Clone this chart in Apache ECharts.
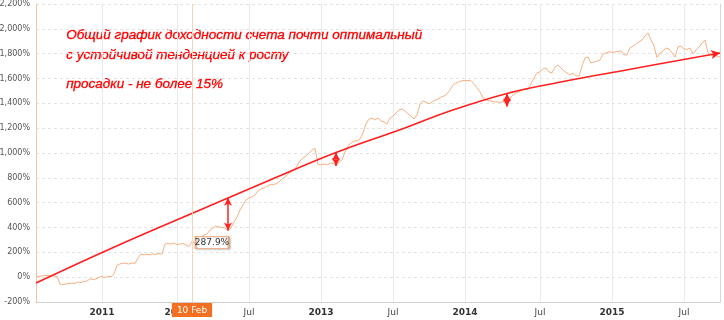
<!DOCTYPE html>
<html>
<head>
<meta charset="utf-8">
<script src="https://cdn.jsdelivr.net/npm/echarts@6/dist/echarts.min.js"></script>
<style>
html,body{margin:0;padding:0;background:#fff;}
#c{width:724px;height:320px;}
</style>
</head>
<body>
<div id="c"></div>
<script>
// Equity curve (%), one value per ordinal slot
const equity = [
2,6,10,14,14,10,10,6,-55,-59,
-55,-51,-47,-51,-39,-43,-35,-31,-14,-19,
-14,-2,6,-2,6,2,26,94,106,114,
110,106,114,110,155,187,179,183,179,187,
183,191,187,267,271,267,275,263,267,271,
259,247,287.9,275,300,324,340,348,380,396,
412,404,400,396,376,396,445,485,541,581,
622,638,646,662,694,710,718,735,743,747,
751,767,791,807,831,847,863,896,936,960,
976,1000,1024,1037,908,904,912,904,916,920,
896,928,944,1008,1057,1081,1097,1097,1113,1161,
1234,1274,1282,1266,1282,1258,1250,1234,1282,1298,
1322,1347,1355,1339,1314,1298,1274,1306,1395,1419,
1411,1395,1411,1427,1435,1451,1459,1475,1508,1548,
1564,1572,1583,1583,1583,1583,1556,1524,1492,1443,
1427,1419,1419,1411,1411,1407,1419,1375,1443,1467,
1484,1492,1508,1516,1512,1556,1604,1645,1653,1677,
1685,1653,1645,1693,1709,1685,1661,1645,1628,1645,
1620,1620,1701,1765,1773,1725,1733,1741,1749,1798,
1806,1814,1810,1814,1818,1822,1790,1790,1846,1862,
1878,1894,1910,1943,1967,1910,1862,1769,1806,1822,
1846,1838,1806,1773,1854,1862,1838,1834,1846,1798,
1830,1854,1886,1910,1806,1790,1781,1781,1773
];
// Trend curve: [slot index, value %]
const trendIdx = [0, 28, 57, 78, 100, 122, 138, 157, 175, 195, 228];
const trendVal = [-47, 263, 565, 783, 1004, 1194, 1339, 1480, 1572, 1661, 1806];
// Drawdown arrows: slot index, top value, bottom value
const ddIdx = [64, 100, 157];
const ddTop = [640, 1004, 1480];
const ddBottom = [376, 896, 1375];
// X tick labels at ordinal slots
const xTickIndex = [22, 47, 71, 95, 119, 143, 168, 192, 216];
const xTickLabels = ['2011','2012','Jul','2013','Jul','2014','Jul','2015','Jul'];
// Hovered point
const hoverIdx = 52;
const hoverDate = '10 Feb';
const yMin = -200, yMax = 2200, yStep = 200;
const notes = ['Общий график доходности счета почти оптимальный','с устойчивой тенденцией к росту','просадки - не более 15%'];

const categories = equity.map((_, i) => 'd' + i);
const tickMap = {};
xTickIndex.forEach((ix, k) => tickMap[ix] = xTickLabels[k]);
const isTick = (i) => tickMap[i] !== undefined;

const trendData = trendIdx.map((ix, k) => {
  const item = { value: [ix, trendVal[k]] };
  if (k === trendIdx.length - 1) {
    item.symbol = 'arrow';
    item.symbolSize = [7, 9];
    item.symbolRotate = -80;
    item.itemStyle = { color: '#ff1f1f' };
  }
  return item;
});

const ddLines = ddIdx.map((ix, k) => [{ coord: [ix, ddTop[k]] }, { coord: [ix, ddBottom[k]] }]);

const chart = echarts.init(document.getElementById('c'), null, { renderer: 'canvas' });
chart.setOption({
  animation: false,
  backgroundColor: '#fff',
  grid: { left: 36, right: 4, top: 4, bottom: 18, containLabel: false, outerBoundsMode: 'none' },
  xAxis: {
    type: 'category',
    data: categories,
    boundaryGap: false,
    axisLine: { show: true, onZero: false, lineStyle: { color: '#cfcfcf', width: 1 } },
    axisTick: { show: false },
    axisLabel: {
      interval: (i) => isTick(i),
      margin: 6,
      formatter: (v, i) => {
        const t = tickMap[i] || '';
        return /^\d+$/.test(t) ? '{b|' + t + '}' : '{n|' + t + '}';
      },
      rich: {
        b: { fontFamily: 'DejaVu Sans', fontSize: 9, fontWeight: 'bold', color: '#333' },
        n: { fontFamily: 'DejaVu Sans', fontSize: 9, color: '#444' }
      }
    },
    splitLine: { show: true, interval: (i) => isTick(i), lineStyle: { color: '#e9e9e9', width: 1, type: 'solid' } },
    axisPointer: {
      show: true,
      value: hoverIdx,
      status: 'show',
      type: 'line',
      triggerTooltip: false,
      lineStyle: { color: '#f8d2b6', width: 1, type: 'solid' },
      label: {
        show: true,
        formatter: () => hoverDate,
        backgroundColor: '#f36f21',
        color: '#fff',
        fontFamily: 'DejaVu Sans',
        fontSize: 9,
        padding: [3, 5, 2, 5],
        margin: 1,
        borderRadius: 0
      }
    }
  },
  yAxis: [{
    type: 'value',
    min: yMin, max: yMax, interval: yStep,
    axisLine: { show: true, lineStyle: { color: '#f5c6a2', width: 1 } },
    axisTick: { show: false },
    axisLabel: {
      margin: 6,
      fontFamily: 'DejaVu Sans',
      fontSize: 8,
      color: '#555',
      formatter: (v) => v.toLocaleString('en-US') + '%'
    },
    splitLine: { show: true, lineStyle: { color: '#e3e3e3', width: 1, type: [3, 3] } }
  }, {
    type: 'value',
    position: 'right',
    min: yMin, max: yMax, interval: yStep,
    axisLine: { show: true, lineStyle: { color: '#d6d6d6', width: 1 } },
    axisTick: { show: false },
    axisLabel: { show: false },
    splitLine: { show: false }
  }],
  series: [{
    name: 'equity',
    type: 'line',
    data: equity,
    showSymbol: false,
    symbol: 'none',
    lineStyle: { color: '#f8b184', width: 1 },
    z: 2,
    silent: true,
    markPoint: {
      silent: true,
      data: [{
        coord: [hoverIdx, equity[hoverIdx]],
        value: equity[hoverIdx],
        symbol: 'rect',
        symbolSize: [33, 12],
        symbolOffset: [20, 1],
        itemStyle: { color: '#fff', borderColor: '#f2a46e', borderWidth: 1, shadowColor: 'rgba(0,0,0,0.25)', shadowBlur: 2, shadowOffsetX: 1, shadowOffsetY: 1 },
        label: { show: true, position: 'inside', formatter: (p) => p.value.toFixed(1) + '%', color: '#333', fontFamily: 'DejaVu Sans', fontSize: 9 }
      }]
    }
  }, {
    name: 'trend',
    type: 'line',
    data: trendData,
    smooth: 0.4,
    symbol: 'none',
    showSymbol: true,
    showAllSymbol: true,
    lineStyle: { color: '#ff1f1f', width: 1.6 },
    z: 3,
    silent: true,
    markLine: {
      silent: true,
      symbol: ['arrow', 'arrow'],
      symbolSize: [6, 8],
      label: { show: false },
      lineStyle: { color: '#ff2020', width: 1.5, type: 'solid' },
      data: ddLines
    }
  }],
  graphic: notes.map((t, k) => ({
    type: 'text',
    left: 66,
    top: [28, 48, 77][k],
    silent: true,
    style: {
      text: t,
      fill: '#ff0000',
      stroke: '#ff0000',
      lineWidth: 0.3,
      font: 'italic 13.5px "Liberation Sans", sans-serif'
    }
  }))
});
</script>
</body>
</html>
